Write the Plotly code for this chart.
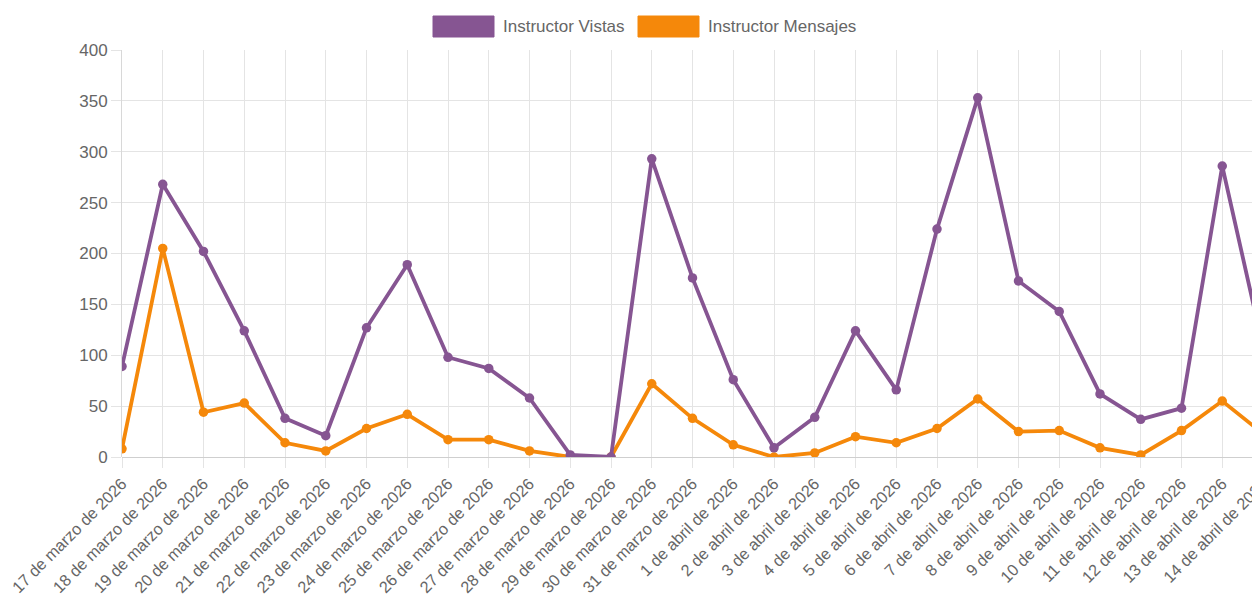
import plotly.graph_objects as go

dates = [
    "17 de marzo de 2026", "18 de marzo de 2026", "19 de marzo de 2026", "20 de marzo de 2026",
    "21 de marzo de 2026", "22 de marzo de 2026", "23 de marzo de 2026", "24 de marzo de 2026",
    "25 de marzo de 2026", "26 de marzo de 2026", "27 de marzo de 2026", "28 de marzo de 2026",
    "29 de marzo de 2026", "30 de marzo de 2026", "31 de marzo de 2026", "1 de abril de 2026",
    "2 de abril de 2026", "3 de abril de 2026", "4 de abril de 2026", "5 de abril de 2026",
    "6 de abril de 2026", "7 de abril de 2026", "8 de abril de 2026", "9 de abril de 2026",
    "10 de abril de 2026", "11 de abril de 2026", "12 de abril de 2026", "13 de abril de 2026",
    "14 de abril de 2026",
]
vistas = [89, 268, 202, 124, 38, 21, 127, 189, 98, 87, 58, 2, 0, 293, 176, 76, 9, 39, 124, 66,
          224, 353, 173, 143, 62, 37, 48, 286, 108]
mensajes = [8, 205, 44, 53, 14, 6, 28, 42, 17, 17, 6, 0, 0, 72, 38, 12, 0, 4, 20, 14,
            28, 57, 25, 26, 9, 2, 26, 55, 23]

PURPLE = "#865592"
ORANGE = "#f5880a"
TEXT = "#666666"
GRID = "#e4e4e4"
FONT = "Liberation Sans, Arial, sans-serif"

# page body has an 8px margin
OFF = 8
W, H = 1255, 603 - 2 * OFF
# desired plot area on screen: x 122..(right edge), y 50..457
L, R, T, B = 122 - OFF, 0, 50 - OFF, H - (457 - OFF)

fig = go.Figure()
fig.add_trace(go.Scatter(x=dates, y=mensajes, mode="lines+markers", name="Instructor Mensajes",
                         line=dict(color=ORANGE, width=3.8), marker=dict(color=ORANGE, size=9.5)))
fig.add_trace(go.Scatter(x=dates, y=vistas, mode="lines+markers", name="Instructor Vistas",
                         line=dict(color=PURPLE, width=3.8), marker=dict(color=PURPLE, size=9.5)))

pw = W - L - R
ph = H - T - B


def px2x(px):
    return (px - OFF - L) / pw


def py2y(py):
    return (H - B - (py - OFF)) / ph


shapes = []
annotations = []
legend_items = [("Instructor Vistas", PURPLE, 433), ("Instructor Mensajes", ORANGE, 638)]
for name, col, x0 in legend_items:
    shapes.append(dict(type="rect", xref="paper", yref="paper",
                       x0=px2x(x0), x1=px2x(x0 + 61), y0=py2y(37), y1=py2y(16),
                       fillcolor=col, line=dict(color=col, width=1)))
    annotations.append(dict(xref="paper", yref="paper", x=px2x(x0 + 68), y=py2y(26.5),
                            xanchor="left", yanchor="middle", showarrow=False, text=name,
                            font=dict(family=FONT, size=17, color=TEXT)))

fig.update_layout(
    width=W, height=H,
    margin=dict(l=L, r=R, t=T, b=B, autoexpand=False),
    paper_bgcolor="white", plot_bgcolor="white",
    showlegend=False,
    shapes=shapes, annotations=annotations,
    font=dict(family=FONT, size=17, color=TEXT),
    xaxis=dict(
        type="category", range=[0, len(dates) - 1], tickangle=-45,
        showgrid=True, gridcolor=GRID, gridwidth=1,
        ticks="outside", ticklen=10, tickcolor=GRID,
        showline=False, zeroline=False, automargin=False,
        tickfont=dict(family=FONT, size=16.3, color=TEXT),
    ),
    yaxis=dict(
        range=[0, 400], dtick=50,
        showgrid=True, gridcolor=GRID, gridwidth=1,
        ticks="outside", ticklen=10, tickcolor=GRID,
        showline=True, linecolor="#d8d8d8", linewidth=1,
        zeroline=True, zerolinecolor="#cfcfcf", zerolinewidth=1,
        automargin=False,
        tickfont=dict(family=FONT, size=17, color=TEXT),
    ),
)

fig.write_html("out.html")
